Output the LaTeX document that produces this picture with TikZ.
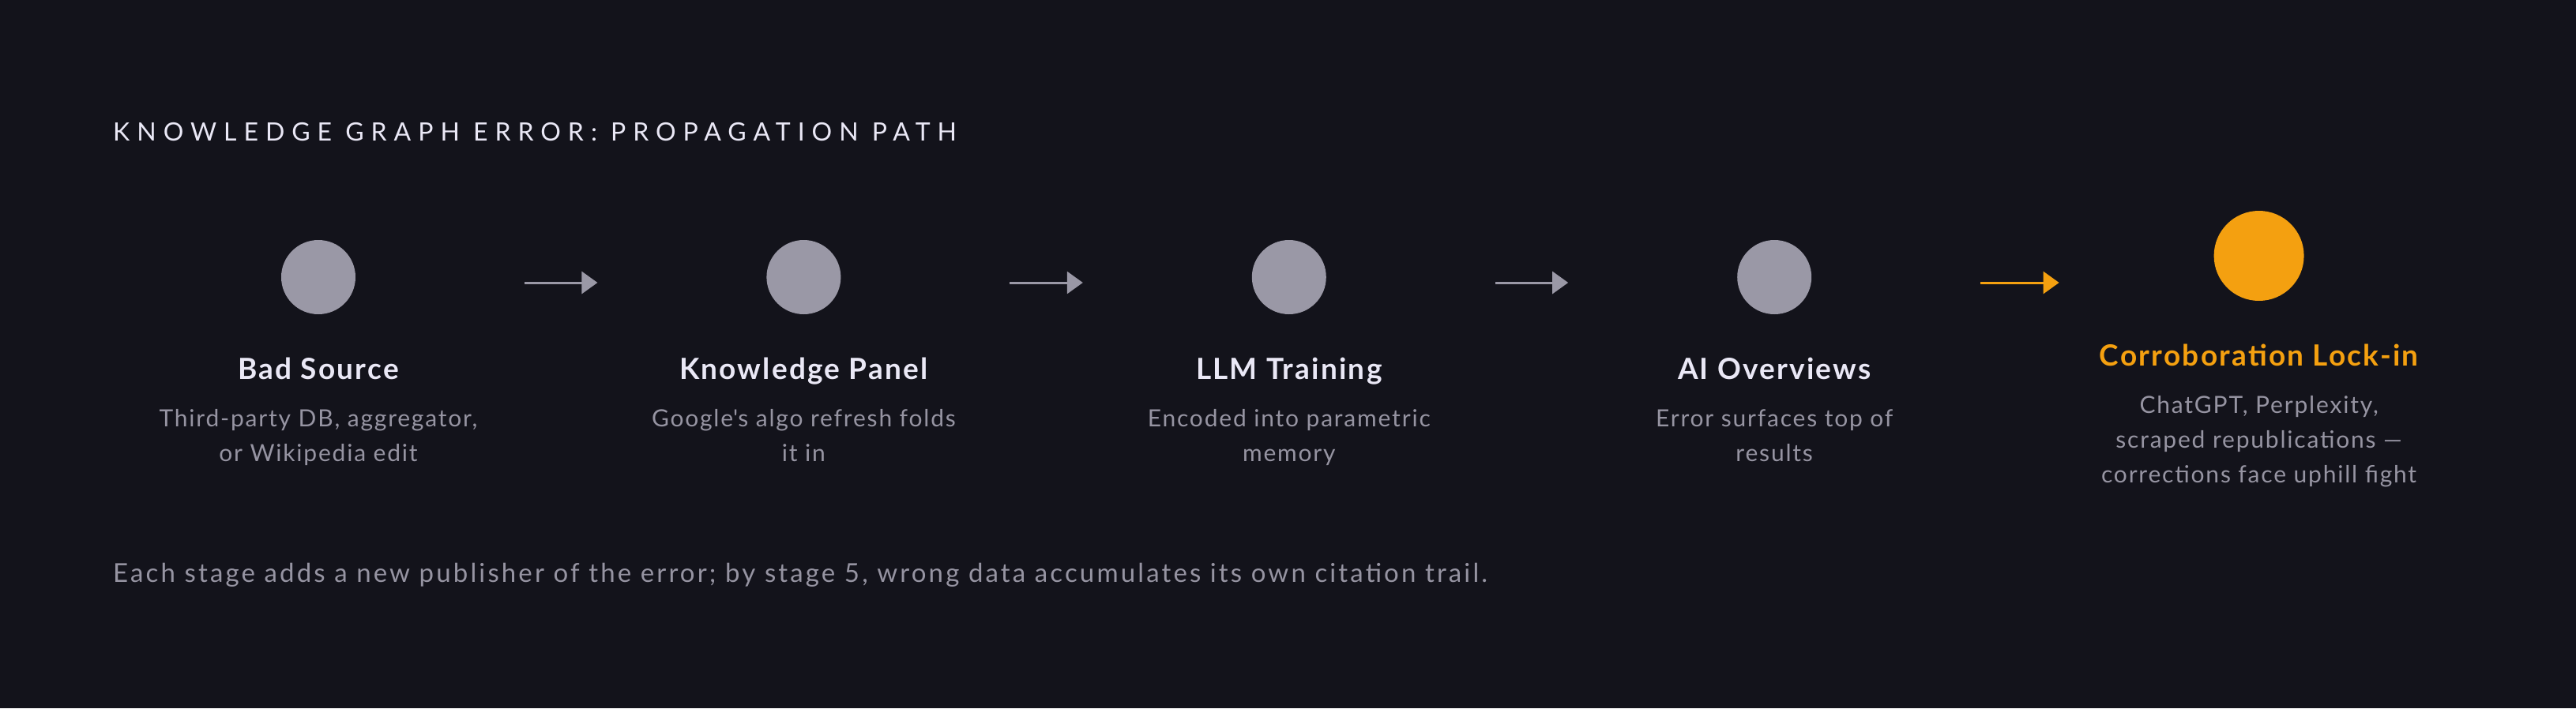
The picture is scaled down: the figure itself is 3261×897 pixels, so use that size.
\documentclass[tikz,border=0pt]{standalone}
\usepackage{fontspec}
\setmainfont{Lato}
\usetikzlibrary{positioning,arrows.meta}

\begin{document}
\begin{tikzpicture}[x=1pt,y=-1pt,node distance=520pt]
    \definecolor{mybg}{RGB}{19,19,27}
    \definecolor{mydot}{RGB}{154,152,166}
    \definecolor{mywhite}{RGB}{234,232,246}
    \definecolor{mygrey}{RGB}{150,148,162}
    \definecolor{myorange}{RGB}{244,160,16}

    % 背景
    \fill[mybg] (0,0) rectangle (3261,897);

    \tikzstyle{dot}=[circle,fill=mydot,minimum size=94pt,inner sep=0pt]  % 灰色圆点
    \tikzstyle{hot}=[circle,fill=myorange,minimum size=114pt,inner sep=0pt]  % 橙色圆点
    \tikzstyle{ttl}=[font=\fontsize{37}{40}\selectfont\bfseries\addfontfeatures{LetterSpace=6},text=mywhite,inner sep=0pt]
    \tikzstyle{desc}=[font=\fontsize{30}{44}\selectfont\addfontfeatures{LetterSpace=6},text=mygrey,align=center,inner sep=0pt]
    \tikzstyle{link}=[-{Triangle[length=20pt,width=28pt]},line width=3pt,draw=mydot,shorten <=261pt,shorten >=261pt]

    % 标题和脚注
    \node[anchor=base west,inner sep=0pt,text=mywhite,font=\fontsize{32}{36}\selectfont\addfontfeatures{LetterSpace=28}](head) at (143,178){KNOWLEDGE GRAPH ERROR: PROPAGATION PATH};
    \node[anchor=base west,inner sep=0pt,text=mygrey,font=\fontsize{33}{36}\selectfont\addfontfeatures{LetterSpace=9.5}](note) at (143,737){Each stage adds a new publisher of the error; by stage 5, wrong data accumulates its own citation trail.};

    % 定义圆点
    \node[dot](c1) at (403,351){};
    \node[dot,right=of c1](c2){};
    \node[dot,right=of c2](c3){};
    \node[dot,right=of c3](c4){};
    \node[hot,right=509pt of c4,yshift=27pt](c5){};

    % 各阶段名称
    \node[ttl,below=82pt of c1,anchor=base](t1){Bad Source};
    \node[ttl,below=82pt of c2,anchor=base](t2){Knowledge Panel};
    \node[ttl,below=82pt of c3,anchor=base](t3){LLM Training};
    \node[ttl,below=82pt of c4,anchor=base](t4){AI Overviews};
    \node[ttl,below=82pt of c5,anchor=base,text=myorange](t5){Corroboration Lock-in};

    % 说明文字
    \node[desc,below=38pt of t1.base](d1){Third-party DB, aggregator,\\or Wikipedia edit};
    \node[desc,below=38pt of t2.base](d2){Google\textquotesingle s algo refresh folds\\it in};
    \node[desc,below=38pt of t3.base](d3){Encoded into parametric\\memory};
    \node[desc,below=38pt of t4.base](d4){Error surfaces top of\\results};
    \node[desc,below=38pt of t5.base](d5){ChatGPT, Perplexity,\\scraped republications —\\corrections face uphill fight};

    % 开始画线
    \draw[link]([yshift=-7pt]c1.center)--([yshift=-7pt]c2.center);
    \draw[link]([yshift=-7pt]c2.center)--([yshift=-7pt]c3.center);
    \draw[link]([yshift=-7pt]c3.center)--([yshift=-7pt]c4.center);
    \draw[link,draw=myorange,shorten >=253pt]([yshift=-7pt]c4.center)--([yshift=-7pt]c4 -| c5);
\end{tikzpicture}
\end{document}
